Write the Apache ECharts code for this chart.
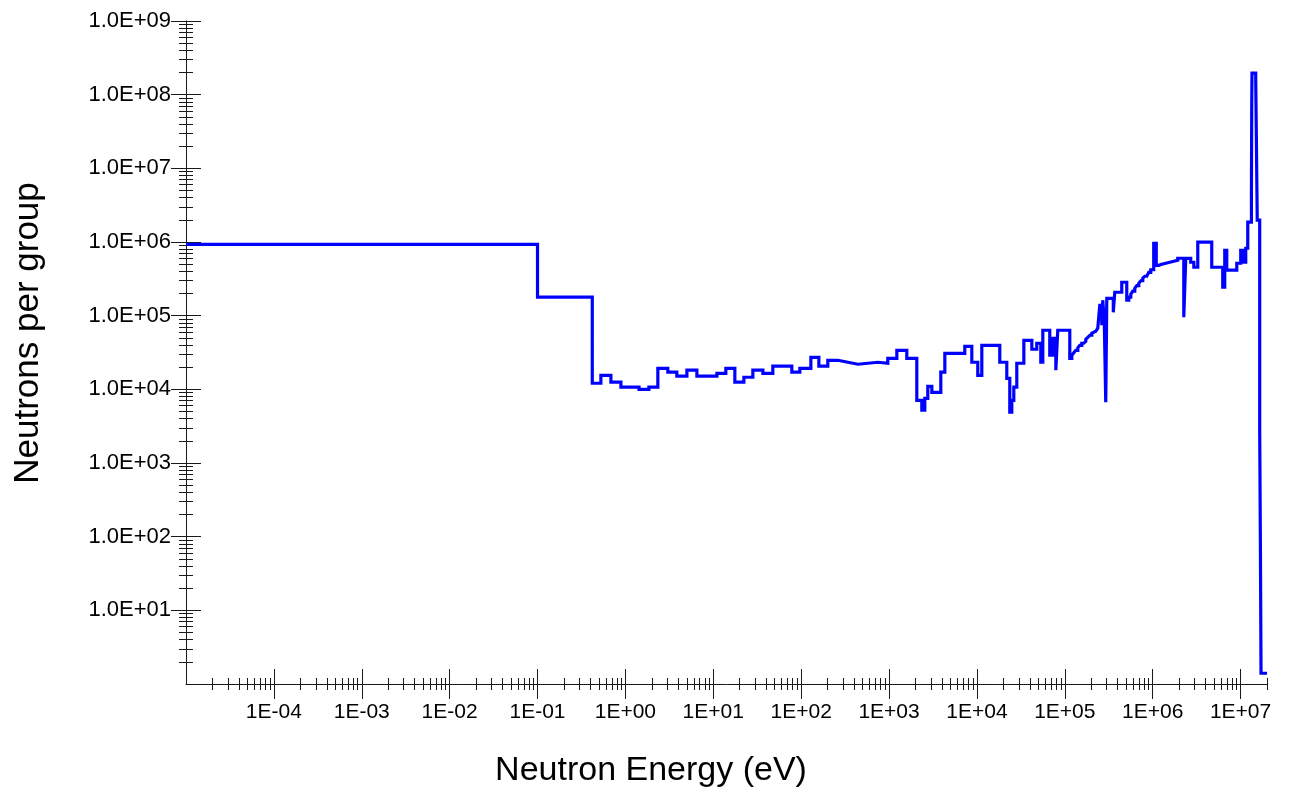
<!DOCTYPE html>
<html>
<head>
<meta charset="utf-8">
<script src="https://cdn.jsdelivr.net/npm/echarts@6/dist/echarts.min.js"></script>
<style>
  html, body { margin: 0; padding: 0; background: #ffffff; }
  #chart { width: 1293px; height: 794px; }
</style>
</head>
<body>
<div id="chart"></div>
<script>
// Lower energy bound of each group (eV)
const groupLowerEnergy = [
  1e-5, 0.1, 0.42, 0.526, 0.684, 0.889, 1.43, 1.85, 2.34, 3.04,
  3.85, 5.01, 6.51, 11.0, 13.9, 17.6, 22.3, 28.2, 36.7, 47.6,
  78.3, 96.6, 129, 159, 201, 262, 340, 442, 746, 968,
  1227, 1593, 2070, 2360, 2553, 2762, 3069, 3882, 4315, 7278,
  8750, 10230, 11370, 18200, 21880, 23660, 24950, 26300, 28440, 34200,
  42170, 47980, 53330, 56230, 67450, 72950, 79070, 83180,
  1.14e5, 1.202e5, 1.266e5, 1.334e5, 1.406e5, 1.481e5, 1.561e5, 1.645e5, 1.734e5, 1.827e5,
  1.925e5, 2.029e5, 2.138e5, 2.253e5, 2.374e5,
  2.5e5, 2.636e5, 2.704e5, 2.813e5, 2.925e5, 3.006e5, 3.564e5, 3.706e5, 4.448e5,
  5.074e5, 5.347e5, 5.635e5, 5.937e5, 6.257e5, 6.593e5, 6.948e5, 7.321e5, 7.715e5, 8.13e5,
  8.568e5, 9.028e5, 9.515e5,
  1.028e6, 1.099e6, 1.173e6, 1.269e6, 1.409e6, 1.564e6, 1.738e6, 1.93e6,
  2.26e6, 2.38e6, 2.71e6, 2.94e6, 3.26e6, 4.70e6, 6.27e6, 6.61e6, 6.97e6,
  9.06e6, 1.005e7, 1.087e7, 1.146e7, 1.208e7, 1.33e7, 1.34e7, 1.35e7, 1.489e7, 1.549e7,
  1.652e7, 1.683e7, 1.71e7
];
// Upper bound of the last group (eV)
const topGroupUpperEnergy = 2e7;

// Neutrons in each group
const neutronsPerGroup = [
  9.3e5, 1.78e5, 1.21e4, 1.55e4, 1.25e4, 1.07e4, 1.0e4, 1.07e4, 1.93e4, 1.71e4,
  1.51e4, 1.82e4, 1.51e4, 1.65e4, 1.93e4, 1.25e4, 1.46e4, 1.82e4, 1.65e4, 2.06e4,
  1.71e4, 1.93e4, 2.72e4, 2.06e4, 2.48e4, 2.33e4, 2.19e4, 2.33e4, 2.26e4, 2.64e4,
  3.39e4, 2.64e4, 7.1e3, 5.2e3, 7.55e3, 1.1e4, 9.12e3, 1.71e4, 3.08e4, 3.84e4,
  2.33e4, 1.55e4, 3.96e4, 2.33e4, 1.41e4, 4.89e3, 7.1e3, 1.07e4, 2.26e4, 4.63e4,
  3.5e4, 4.22e4, 2.33e4, 6.34e4, 2.9e4, 4.93e4, 1.82e4, 6.34e4,
  2.64e4, 2.9e4, 3.14e4, 3.39e4, 3.67e4, 3.96e4, 4.22e4, 4.49e4, 4.78e4, 5.09e4,
  5.42e4, 5.77e4, 6.14e4, 6.44e4, 6.75e4,
  1.38e5, 7.41e4, 1.62e5, 8.65e4, 6.67e3, 1.72e5, 1.11e5, 2.08e5, 2.84e5,
  1.62e5, 1.78e5, 1.95e5, 2.15e5, 2.36e5, 2.55e5, 2.75e5, 2.98e5, 3.22e5, 3.43e5,
  3.65e5, 3.88e5, 4.2e5,
  9.62e5, 4.83e5, 4.99e5, 5.15e5, 5.31e5, 5.48e5, 5.65e5, 6.02e5,
  9.5e4, 6.01e5, 5.31e5, 4.54e5, 9.93e5, 4.54e5, 2.43e5, 7.73e5, 4.14e5,
  5.15e5, 7.73e5, 5.31e5, 8.22e5, 1.86e6, 4.6e6, 6.17e7, 1.96e8, 1.56e8, 1.98e6,
  2.78e3, 71.8, 1.4
];

// Axis ranges
const energyRange = [1e-5, 2e7];
const countRange = [1, 1e9];

// Labelled decades
const energyMajorTicks = [1e-4, 1e-3, 1e-2, 1e-1, 1e0, 1e1, 1e2, 1e3, 1e4, 1e5, 1e6, 1e7];
const energyTickLabels = ['1E-04', '1E-03', '1E-02', '1E-01', '1E+00', '1E+01', '1E+02',
                          '1E+03', '1E+04', '1E+05', '1E+06', '1E+07'];
const countMajorTicks = [1e1, 1e2, 1e3, 1e4, 1e5, 1e6, 1e7, 1e8, 1e9];
const countTickLabels = ['1.0E+01', '1.0E+02', '1.0E+03', '1.0E+04', '1.0E+05',
                         '1.0E+06', '1.0E+07', '1.0E+08', '1.0E+09'];

const xTitle = 'Neutron Energy (eV)';
const yTitle = 'Neutrons per group';

// 2..9 times each decade, within the axis range
function minorTicks(range) {
  const out = [];
  const k0 = Math.floor(Math.log10(range[0]));
  const k1 = Math.ceil(Math.log10(range[1]));
  for (let k = k0; k <= k1; k++) {
    for (let m = 2; m <= 9; m++) {
      const v = m * Math.pow(10, k);
      if (v >= range[0] * 0.999 && v <= range[1] * 1.001) out.push(v);
    }
  }
  return out;
}
const energyMinorTicks = minorTicks(energyRange);
const countMinorTicks = minorTicks(countRange);

function labelFor(ticks, labels) {
  return function (v) {
    for (let i = 0; i < ticks.length; i++) {
      if (Math.abs(Math.log10(v) - Math.log10(ticks[i])) < 1e-6) return labels[i];
    }
    return '';
  };
}

// Step-line points: each group value held from its lower bound to the next bound
const stepPoints = groupLowerEnergy.map((e, i) => [e, neutronsPerGroup[i]]);
stepPoints.push([topGroupUpperEnergy, neutronsPerGroup[neutronsPerGroup.length - 1]]);

const FONT = '"Liberation Sans", Arial, Helvetica, sans-serif';
const AXIS_COLOR = '#1a1a1a';

function xAxisDef(ticks, inside, len, main) {
  return {
    type: 'log', logBase: 10, position: 'bottom',
    min: energyRange[0], max: energyRange[1],
    axisLine: { show: main, onZero: false, lineStyle: { color: AXIS_COLOR, width: 1 } },
    axisTick: { show: true, inside: inside, length: len, customValues: ticks,
                lineStyle: { color: AXIS_COLOR, width: 1 } },
    axisLabel: main ? {
      show: true, customValues: energyMajorTicks,
      formatter: labelFor(energyMajorTicks, energyTickLabels),
      color: '#000', fontFamily: FONT, fontSize: 21, margin: 18
    } : { show: false },
    splitLine: { show: false },
    minorTick: { show: false }
  };
}
function yAxisDef(ticks, inside, len, main) {
  return {
    type: 'log', logBase: 10, position: 'left',
    min: countRange[0], max: countRange[1],
    axisLine: { show: main, onZero: false, lineStyle: { color: AXIS_COLOR, width: 1 } },
    axisTick: { show: true, inside: inside, length: len, customValues: ticks,
                lineStyle: { color: AXIS_COLOR, width: 1 } },
    axisLabel: main ? {
      show: true, customValues: countMajorTicks,
      formatter: labelFor(countMajorTicks, countTickLabels),
      color: '#000', fontFamily: FONT, fontSize: 22, margin: 15
    } : { show: false },
    splitLine: { show: false },
    minorTick: { show: false }
  };
}

const chart = echarts.init(document.getElementById('chart'), null, { renderer: 'canvas' });
chart.setOption({
  animation: false,
  backgroundColor: '#ffffff',
  grid: { left: 186, right: 26, top: 21, bottom: 110, containLabel: false },
  xAxis: [
    xAxisDef(energyMajorTicks, false, 15, true),
    xAxisDef(energyMajorTicks, true, 15, false),
    xAxisDef(energyMinorTicks, false, 6, false),
    xAxisDef(energyMinorTicks, true, 6, false)
  ],
  yAxis: [
    yAxisDef(countMajorTicks, false, 15, true),
    yAxisDef(countMajorTicks, true, 15, false),
    yAxisDef(countMinorTicks, false, 7, false),
    yAxisDef(countMinorTicks, true, 7, false)
  ],
  graphic: [
    {
      type: 'text', x: 651, y: 771,
      style: { text: xTitle, font: '34px ' + FONT, fill: '#000',
               textAlign: 'center', textVerticalAlign: 'middle' }
    },
    {
      type: 'text', x: 28, y: 333, rotation: Math.PI / 2,
      style: { text: yTitle, font: '35px ' + FONT, fill: '#000',
               textAlign: 'center', textVerticalAlign: 'middle' }
    }
  ],
  series: [{
    type: 'line',
    xAxisIndex: 0, yAxisIndex: 0,
    data: stepPoints,
    step: 'end',
    showSymbol: false,
    symbol: 'none',
    clip: true,
    lineStyle: { color: '#0000ff', width: 3.2, cap: 'butt', join: 'miter' },
    z: 5
  }]
});
</script>
</body>
</html>
